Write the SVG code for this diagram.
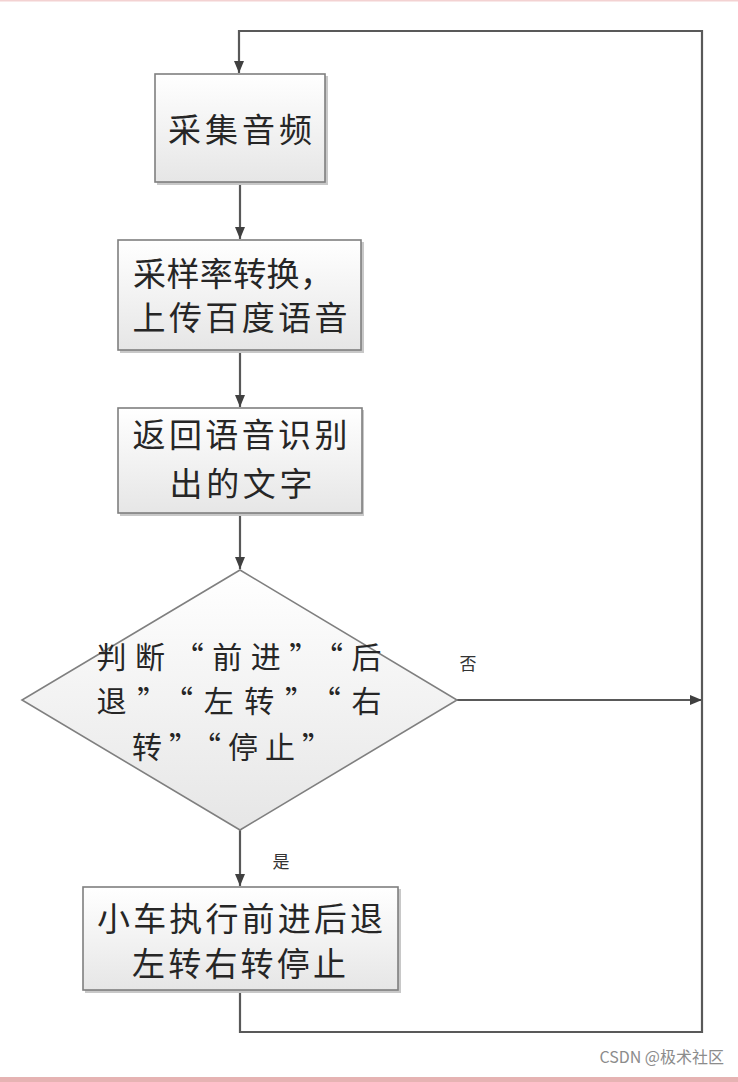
<svg xmlns="http://www.w3.org/2000/svg" width="738" height="1082" viewBox="0 0 738 1082">
<defs>
<linearGradient id="g" x1="0" y1="0" x2="0" y2="1">
<stop offset="0" stop-color="#ffffff"/>
<stop offset="1" stop-color="#e6e6e6"/>
</linearGradient>
<marker id="arr" markerWidth="12" markerHeight="10" refX="12" refY="5" orient="auto" markerUnits="userSpaceOnUse">
<path d="M0,0 L12,5 L0,10 Z" fill="#404040"/>
</marker>
</defs>
<style>
.box{fill:url(#g);stroke:#7f7f7f;stroke-width:1.6}
.sh{fill:#c8c8c8}
.t{font-family:"Noto Sans CJK SC","Noto Sans CJK JP",sans-serif;font-size:33px;fill:#262626;text-anchor:middle;dominant-baseline:central}
.d{font-size:30px}
.s{font-family:"Noto Sans CJK SC",sans-serif;font-size:17px;fill:#333;text-anchor:middle;dominant-baseline:central}
.c{fill:none;stroke:#595959;stroke-width:2.2}
</style>
<rect x="0" y="0" width="738" height="1082" fill="#ffffff"/>
<rect x="0" y="0" width="738" height="1.5" fill="#f3d2d2"/>
<rect x="0" y="1077" width="738" height="5" fill="#e6b3b3"/>
<g id="connectors">
<polyline class="c" points="702,700 702,31 239,31 239,73" marker-end="url(#arr)"/>
<line class="c" x1="240" y1="183" x2="240" y2="239" marker-end="url(#arr)"/>
<line class="c" x1="240" y1="350" x2="240" y2="407" marker-end="url(#arr)"/>
<line class="c" x1="240" y1="513" x2="240" y2="569" marker-end="url(#arr)"/>
<line class="c" x1="457" y1="700" x2="702" y2="700" marker-end="url(#arr)"/>
<line class="c" x1="240" y1="830" x2="240" y2="886" marker-end="url(#arr)"/>
<polyline class="c" points="240,990 240,1032 702,1032 702,700"/>
<text class="s" x="468" y="662">否</text>
<text class="s" x="281" y="860">是</text>
</g>
<g id="n1">
<rect class="sh" x="157" y="76" width="171" height="109"/>
<rect class="box" x="155" y="74" width="170" height="108"/>
<text class="t" x="240" y="128" textLength="144" lengthAdjust="spacing">采集音频</text>
</g>
<g id="n2">
<rect class="sh" x="120" y="242" width="244" height="111"/>
<rect class="box" x="118" y="240" width="243" height="110"/>
<text class="t" x="233" y="272" textLength="200" lengthAdjust="spacing">采样率转换，</text>
<text class="t" x="240" y="316" textLength="215" lengthAdjust="spacing">上传百度语音</text>
</g>
<g id="n3">
<rect class="sh" x="120" y="410" width="244" height="106"/>
<rect class="box" x="118" y="408" width="244" height="105"/>
<text class="t" x="240" y="433" textLength="215" lengthAdjust="spacing">返回语音识别</text>
<text class="t" x="241" y="482" textLength="143" lengthAdjust="spacing">出的文字</text>
</g>
<g id="n4">
<polygon class="box" points="240,570 457,700 240,830 22,700"/>
<text class="t d" x="239" y="655" textLength="285" lengthAdjust="spacing">判断“前进”“后</text>
<text class="t d" x="239" y="699" textLength="285" lengthAdjust="spacing">退”“左转”“右</text>
<text class="t d" x="232" y="745" textLength="200" lengthAdjust="spacing">转”“停止”</text>
</g>
<g id="n5">
<rect class="sh" x="85" y="889" width="316" height="104"/>
<rect class="box" x="83" y="887" width="315" height="103"/>
<text class="t" x="240" y="917" textLength="286" lengthAdjust="spacing">小车执行前进后退</text>
<text class="t" x="239" y="962" textLength="214" lengthAdjust="spacing">左转右转停止</text>
</g>
<text x="724" y="1063" font-family="'Noto Sans CJK SC',sans-serif" font-size="16" fill="#8c8c8c" text-anchor="end">CSDN @极术社区</text>
</svg>
